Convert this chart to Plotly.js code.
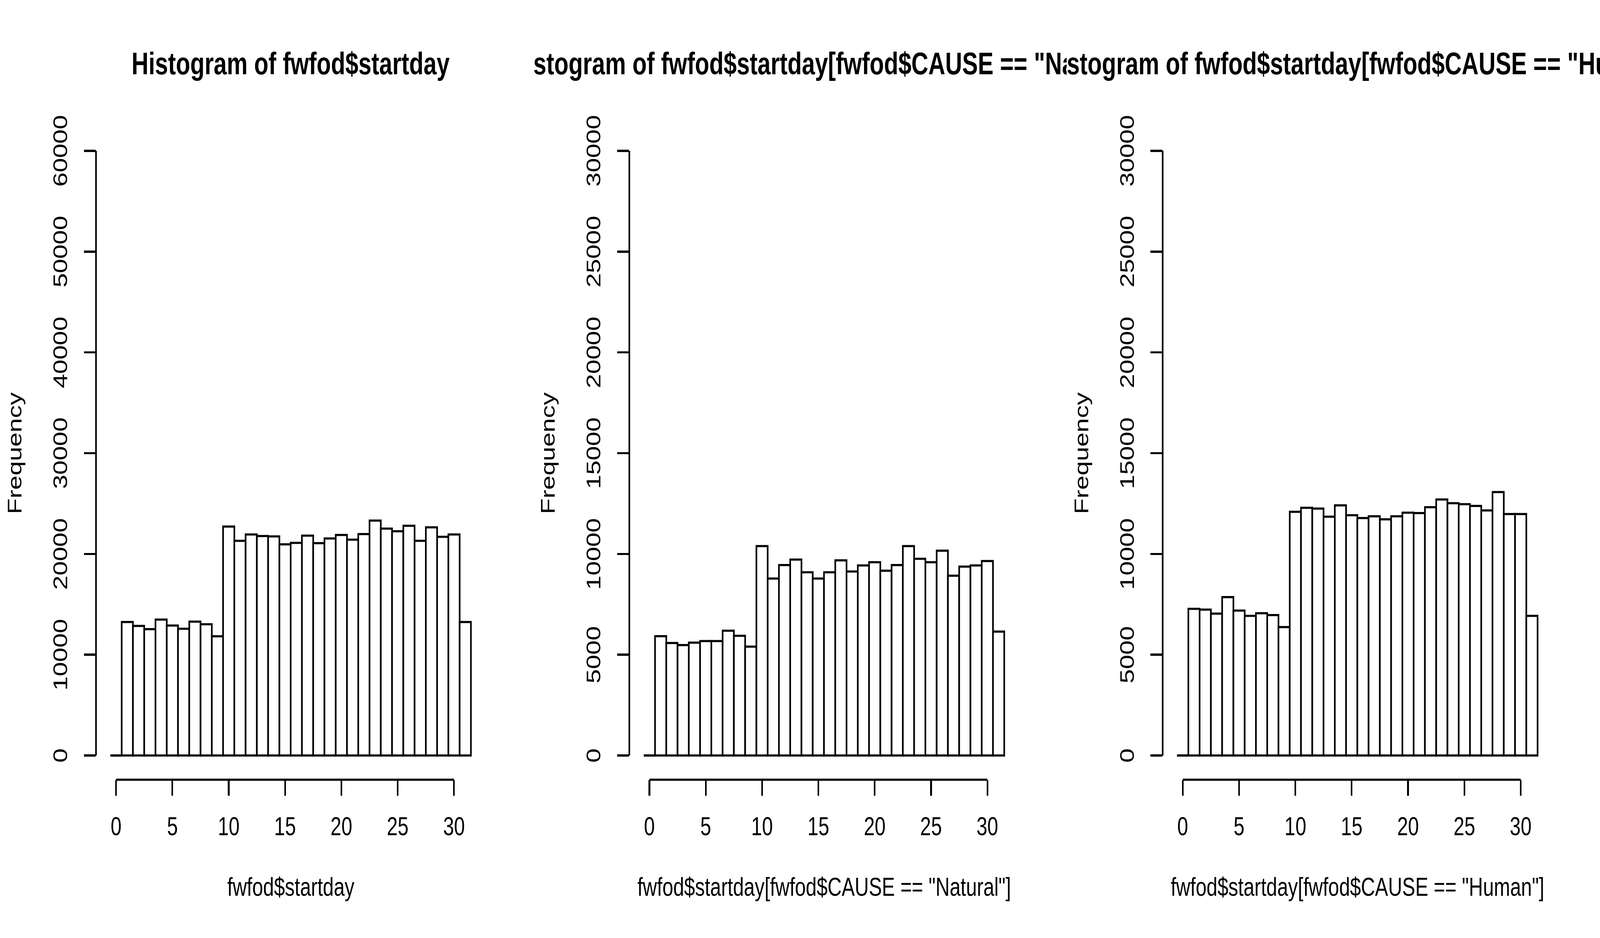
<!DOCTYPE html>
<html>
<head>
<meta charset="utf-8">
<script src="https://cdn.plot.ly/plotly-3.0.1.min.js"></script>
<style>html,body{margin:0;padding:0;background:#fff;overflow:hidden;}#chart{position:absolute;left:0;top:0;width:5400px;height:2400px;transform-origin:0 0;}</style>
</head>
<body>
<div id="chart"></div>
<script>
// ---- data ----
const binCenters = [0,1,2,3,4,5,6,7,8,9,10,11,12,13,14,15,16,17,18,19,20,21,22,23,24,25,26,27,28,29,30,31];
const allCounts = [0,13250,12860,12540,13490,12900,12580,13290,13020,11830,22720,21300,21930,21780,21740,20950,21100,21820,21070,21540,21890,21420,21970,23310,22520,22250,22800,21300,22640,21700,21930,13250];
const naturalCounts = [0,5920,5580,5480,5600,5680,5680,6190,5940,5400,10390,8780,9450,9720,9090,8780,9090,9680,9130,9430,9590,9170,9450,10390,9760,9590,10160,8920,9370,9430,9650,6150];
const humanCounts = [0,7280,7240,7040,7860,7190,6930,7060,6970,6370,12090,12290,12250,11850,12410,11920,11780,11870,11720,11870,12050,12030,12320,12700,12520,12470,12380,12160,13070,11980,11980,6930];
const xTicks = [0,5,10,15,20,25,30];
const yTicksAll = [0,10000,20000,30000,40000,50000,60000];
const yTicksCause = [0,5000,10000,15000,20000,25000,30000];
const titles = ["Histogram of fwfod$startday", "stogram of fwfod$startday[fwfod$CAUSE == \"Na", "stogram of fwfod$startday[fwfod$CAUSE == \"Hu"];
const xLabels = ["fwfod$startday", "fwfod$startday[fwfod$CAUSE == \"Natural\"]", "fwfod$startday[fwfod$CAUSE == \"Human\"]"];
const yLabel = "Frequency";
const yMax = [60000, 30000, 30000];

// ---- layout geometry (5400 x 2400 design canvas) ----
const W = 5400, H = 2400;
const FONT = "Liberation Sans, Arial, sans-serif";
const LW = 5.5;
const panels = [allCounts, naturalCounts, humanCounts];
const yTickSets = [yTicksAll, yTicksCause, yTicksCause];
const plotTop = 324, plotBottom = 1995;
const xMin = -0.5, xMax = 31.5;

const traces = [];
const layout = {
  width: W, height: H,
  margin: {l: 0, r: 0, t: 0, b: 0, pad: 0},
  paper_bgcolor: "#fff", plot_bgcolor: "#fff",
  showlegend: false, hovermode: false,
  font: {family: FONT, color: "#000", size: 66},
  shapes: [], annotations: []
};

panels.forEach((counts, k) => {
  const left = 1800 * k + 324, right = 1800 * k + 1638;
  const sfx = k === 0 ? "" : String(k + 1);
  const xa = "x" + sfx, ya = "y" + sfx;
  const xpad = (xMax - xMin) * 0.04, ypad = yMax[k] * 0.04;
  layout["xaxis" + sfx] = {
    domain: [left / W, right / W], anchor: ya,
    range: [xMin - xpad, xMax + xpad],
    showgrid: false, zeroline: false, showline: false,
    ticks: "outside", ticklen: 40, tickwidth: LW, tickcolor: "#000",
    tickvals: xTicks, ticktext: xTicks.map(String),
    tickfont: {family: FONT, size: 66, color: "#000"},
    ticklabelstandoff: 22, fixedrange: true
  };
  layout["yaxis" + sfx] = {
    domain: [1 - plotBottom / H, 1 - plotTop / H], anchor: xa,
    range: [-ypad, yMax[k] + ypad],
    showgrid: false, zeroline: false, showline: false,
    ticks: "outside", ticklen: 40, tickwidth: LW, tickcolor: "#000",
    tickvals: yTickSets[k], ticktext: yTickSets[k].map(String),
    tickangle: -90,
    tickfont: {family: FONT, size: 66, color: "#000"},
    ticklabelstandoff: 30, ticklabelshift: 10, fixedrange: true
  };
  // bars
  traces.push({
    type: "bar", x: binCenters, y: counts, width: 1,
    xaxis: xa, yaxis: ya,
    marker: {color: "#fff", line: {color: "#000", width: LW}},
    hoverinfo: "skip"
  });
  // zero-count bins are drawn as flat segments (as R does)
  const zx = [], zy = [];
  counts.forEach((c, i) => {
    if (c === 0) { zx.push(binCenters[i] - 0.5, binCenters[i] + 0.5, null); zy.push(0, 0, null); }
  });
  traces.push({
    type: "scatter", mode: "lines", x: zx, y: zy, xaxis: xa, yaxis: ya,
    line: {color: "#000", width: LW}, hoverinfo: "skip", cliponaxis: false
  });
  // axis lines spanning the tick range only
  layout.shapes.push({
    type: "line", xref: xa, yref: "paper",
    x0: xTicks[0], x1: xTicks[xTicks.length - 1],
    y0: 1 - plotBottom / H, y1: 1 - plotBottom / H,
    line: {color: "#000", width: LW}
  });
  const yt = yTickSets[k];
  layout.shapes.push({
    type: "line", xref: "paper", yref: ya,
    x0: left / W, x1: left / W, y0: yt[0], y1: yt[yt.length - 1],
    line: {color: "#000", width: LW}
  });
  // main title
  const tAnn = {
    text: titles[k], showarrow: false, xref: "paper", yref: "paper",
    y: 1 - 162 / H, yanchor: "middle", borderpad: 0,
    font: {family: FONT, size: 79.2, color: "#000", weight: 700}
  };
  if (k === 0) { tAnn.x = (left + right) / 2 / W; tAnn.xanchor = "center"; }
  else { tAnn.x = (1800 * k - 1) / W; tAnn.xanchor = "left"; }
  layout.annotations.push(tAnn);
  // x label
  layout.annotations.push({
    text: xLabels[k], showarrow: false, xref: "paper", yref: "paper",
    x: (left + right) / 2 / W, xanchor: "center",
    y: 1 - 2269 / H, yanchor: "middle", borderpad: 0,
    font: {family: FONT, size: 66, color: "#000"}
  });
  // y label
  layout.annotations.push({
    text: yLabel, showarrow: false, xref: "paper", yref: "paper",
    x: (1800 * k + 49) / W, xanchor: "center",
    y: 1 - ((plotTop + plotBottom) / 2) / H, yanchor: "middle",
    textangle: -90, borderpad: 0,
    font: {family: FONT, size: 66, color: "#000"}
  });
});

const chartDiv = document.getElementById("chart");
Plotly.newPlot(chartDiv, traces, layout, {staticPlot: true, displayModeBar: false}).then(gd => {
  // R clips each title to its own figure region: clip panel 2's title at the panel boundary
  try {
    const ann = gd.querySelector('.infolayer g.annotation[data-index="3"]');
    if (ann) {
      const svg = ann.ownerSVGElement;
      const NS = "http://www.w3.org/2000/svg";
      let defs = svg.querySelector("defs");
      if (!defs) { defs = document.createElementNS(NS, "defs"); svg.insertBefore(defs, svg.firstChild); }
      const cp = document.createElementNS(NS, "clipPath");
      cp.setAttribute("id", "titleClip2");
      const r = document.createElementNS(NS, "rect");
      r.setAttribute("x", 1800); r.setAttribute("y", 0);
      r.setAttribute("width", 1800); r.setAttribute("height", 400);
      cp.appendChild(r); defs.appendChild(cp);
      ann.setAttribute("clip-path", "url(#titleClip2)");
    }
  } catch (e) {}
  // fit the 5400 x 2400 drawing into the actual viewport
  const vw = window.innerWidth || W, vh = window.innerHeight || H;
  const sx = Math.min(1, vw / W), sy = Math.min(1, vh / H);
  if (sx < 1 || sy < 1) chartDiv.style.transform = "scale(" + sx + "," + sy + ")";
});
</script>
</body>
</html>
